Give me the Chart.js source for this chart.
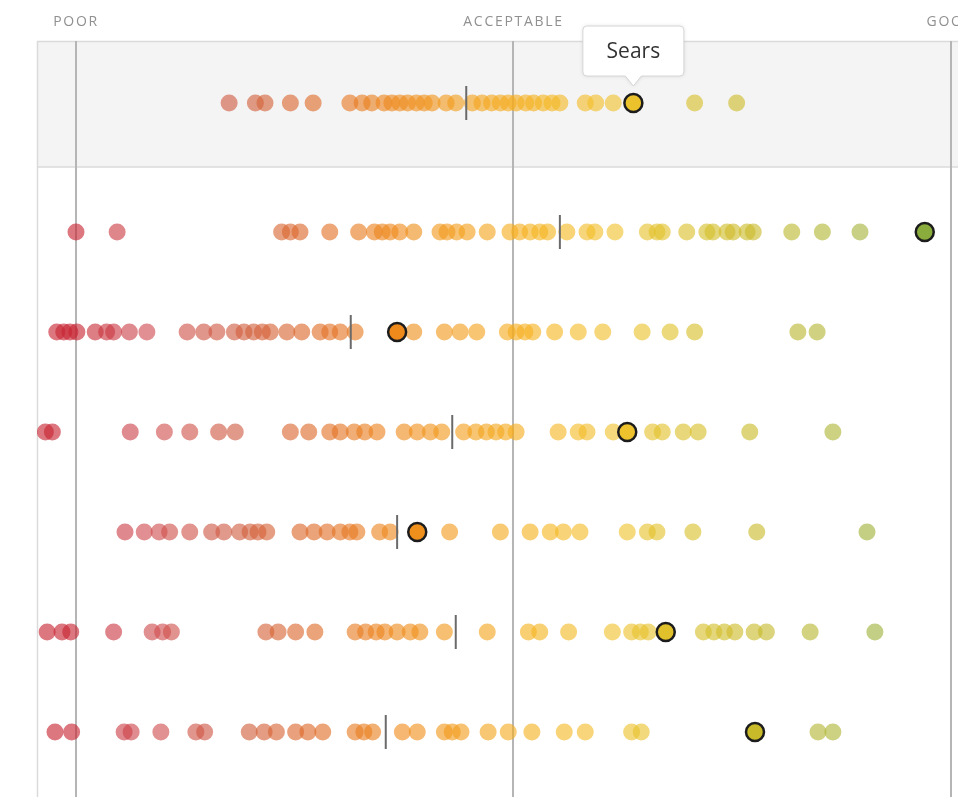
<!DOCTYPE html>
<html>
<head>
<meta charset="utf-8">
<script src="https://cdn.jsdelivr.net/npm/chart.js@4.4.1/dist/chart.umd.min.js"></script>
<style>
  html, body { margin: 0; padding: 0; background: #fff; overflow: hidden; }
  #wrap { width: 958px; height: 797px; overflow: hidden; }
  #strip_chart { display: block; }
</style>
</head>
<body>
<div id="wrap"><canvas id="strip_chart" width="958" height="797"></canvas></div>
<script>
// scores on a 0 (poor) .. 100 (good) scale, one array per row
// row 1 is the selected retailer (shaded band)
const row1 = [17.5, 20.5, 21.6, 24.5, 27.1, 31.3, 32.7, 33.8, 35.2, 36.1, 37.0, 37.9, 38.9, 39.8, 40.7,
  42.3, 43.4, 45.3, 46.4, 47.5, 48.5, 49.4, 50.3, 51.4, 52.3, 53.4, 54.4, 55.3, 58.2, 59.4, 61.4, 70.7, 75.5];
const row2 = [0.0, 4.7, 23.5, 24.5, 25.6, 29.0, 32.3, 34.1, 35.0, 35.9, 37.0, 38.6, 41.6, 42.4, 43.5, 44.7,
  47.0, 49.6, 50.7, 51.9, 53.0, 53.9, 56.1, 58.4, 59.3, 61.6, 65.3, 66.4, 67.0, 69.8, 72.1, 72.8, 74.4, 75.1,
  76.7, 77.4, 81.8, 85.3, 89.6];
const row3 = [-2.2, -1.4, -0.7, 0.1, 2.2, 3.5, 4.3, 6.1, 8.1, 12.7, 14.6, 16.1, 18.1, 19.2, 20.3, 21.3, 22.2,
  24.1, 25.8, 27.9, 29.0, 30.2, 31.9, 38.6, 42.1, 43.9, 45.8, 49.3, 50.3, 51.3, 52.2, 54.7, 57.4, 60.2, 64.7,
  67.9, 70.7, 82.5, 84.7];
const row4 = [-3.5, -2.7, 6.2, 10.1, 13.0, 16.3, 18.2, 24.5, 26.6, 29.0, 30.2, 31.8, 33.0, 34.4, 37.5, 39.0,
  40.5, 41.8, 44.3, 45.7, 46.9, 48.0, 49.1, 50.3, 55.1, 57.4, 58.4, 61.4, 65.9, 67.0, 69.4, 71.1, 77.0, 86.5];
const row5 = [5.6, 7.8, 9.5, 10.7, 13.0, 15.5, 16.9, 18.7, 19.9, 20.8, 21.8, 25.6, 27.2, 28.7, 30.2, 31.3,
  32.1, 34.7, 35.9, 42.7, 48.5, 51.9, 54.2, 55.7, 57.6, 63.0, 65.3, 66.4, 70.5, 77.8, 90.4];
const row6 = [-3.3, -1.6, -0.6, 4.3, 8.7, 9.9, 10.9, 21.7, 23.1, 25.1, 27.3, 31.9, 33.1, 34.3, 35.3, 36.7,
  38.2, 39.3, 42.1, 47.0, 51.7, 53.0, 56.3, 61.3, 63.5, 64.5, 65.4, 71.7, 72.9, 74.1, 75.3, 77.5, 78.9, 83.9, 91.3];
const row7 = [-2.4, -0.5, 5.5, 6.3, 9.7, 13.7, 14.7, 19.8, 21.5, 22.9, 25.1, 26.5, 28.2, 31.9, 32.9, 33.9,
  37.3, 39.0, 42.1, 43.0, 44.0, 47.1, 49.4, 52.1, 55.8, 58.2, 63.5, 64.6, 84.8, 86.5];

const rows = [row1, row2, row3, row4, row5, row6, row7];
const medians = [44.6, 55.3, 31.4, 43.0, 36.7, 43.4, 35.4];
const highlights = [63.7, 97.0, 36.7, 63.0, 39.0, 67.4, 77.6];
const highlightName = 'Sears';

const zoneValues = [0, 50, 100];
const zoneLabels = ['POOR', 'ACCEPTABLE', 'GOOD'];

// first row gets its own band, the rest are one unit apart
function rowY(i) { return i === 0 ? 0 : i + 0.29; }

const colorStops = [
  [0, [198, 35, 50]],
  [8, [206, 75, 80]],
  [18, [206, 92, 65]],
  [27, [222, 106, 40]],
  [36, [238, 136, 28]],
  [45, [243, 160, 28]],
  [53, [246, 180, 32]],
  [62, [240, 194, 45]],
  [70, [218, 192, 42]],
  [78, [200, 186, 42]],
  [88, [170, 180, 55]],
  [97, [138, 172, 60]]
];

function scoreColor(v, a) {
  let lo = colorStops[0], hi = colorStops[colorStops.length - 1];
  if (v <= lo[0]) return 'rgba(' + lo[1].join(',') + ',' + a + ')';
  if (v >= hi[0]) return 'rgba(' + hi[1].join(',') + ',' + a + ')';
  for (let k = 0; k < colorStops.length - 1; k++) {
    if (v >= colorStops[k][0] && v <= colorStops[k + 1][0]) { lo = colorStops[k]; hi = colorStops[k + 1]; break; }
  }
  const t = (v - lo[0]) / (hi[0] - lo[0]);
  const c = lo[1].map((x, j) => Math.round(x + (hi[1][j] - x) * t));
  return 'rgba(' + c.join(',') + ',' + a + ')';
}

const dotData = [];
rows.forEach((r, i) => r.forEach(v => dotData.push({ x: v, y: rowY(i) })));
const medianData = medians.map((v, i) => ({ x: v, y: rowY(i) }));
const highlightData = highlights.map((v, i) => ({ x: v, y: rowY(i) }));

// shaded band + frame lines behind everything
const bandPlugin = {
  id: 'band',
  beforeDraw(chart) {
    const c = chart.ctx, a = chart.chartArea, ys = chart.scales.y;
    const top = ys.getPixelForValue(-0.62), bot = ys.getPixelForValue(0.64);
    c.save();
    c.fillStyle = '#f4f4f4';
    c.fillRect(a.left, top, a.right - a.left, bot - top);
    c.strokeStyle = '#dadada';
    c.lineWidth = 1.5;
    c.beginPath();
    c.moveTo(a.left, top + 0.5); c.lineTo(a.right, top + 0.5);
    c.moveTo(a.left, bot); c.lineTo(a.right, bot);
    c.moveTo(a.left + 0.5, top); c.lineTo(a.left + 0.5, a.bottom);
    c.stroke();
    c.restore();
  }
};

// zone labels on top and the callout for the selected retailer
const labelPlugin = {
  id: 'labels',
  afterDraw(chart) {
    const c = chart.ctx, xs = chart.scales.x;
    c.save();
    c.font = '14px "Open Sans"';
    c.fillStyle = '#909090';
    c.textAlign = 'center';
    c.textBaseline = 'middle';
    c.letterSpacing = '1.7px';
    zoneValues.forEach((v, i) => c.fillText(zoneLabels[i], xs.getPixelForValue(v), 22));
    c.restore();

    const pt = chart.getDatasetMeta(0).data[0];
    const w = 101, h = 50, tipY = pt.y - 17, boxB = tipY - 10, boxT = boxB - h, boxL = pt.x - w / 2;
    c.save();
    c.shadowColor = 'rgba(0,0,0,0.12)';
    c.shadowBlur = 4;
    c.fillStyle = '#fff';
    c.strokeStyle = '#d6d6d6';
    c.lineWidth = 1;
    c.beginPath();
    c.moveTo(boxL + 4, boxT);
    c.lineTo(boxL + w - 4, boxT);
    c.arcTo(boxL + w, boxT, boxL + w, boxT + 4, 4);
    c.lineTo(boxL + w, boxB - 4);
    c.arcTo(boxL + w, boxB, boxL + w - 4, boxB, 4);
    c.lineTo(pt.x + 8, boxB);
    c.lineTo(pt.x, tipY);
    c.lineTo(pt.x - 8, boxB);
    c.lineTo(boxL + 4, boxB);
    c.arcTo(boxL, boxB, boxL, boxB - 4, 4);
    c.lineTo(boxL, boxT + 4);
    c.arcTo(boxL, boxT, boxL + 4, boxT, 4);
    c.closePath();
    c.fill();
    c.shadowColor = 'transparent';
    c.stroke();
    c.fillStyle = '#333';
    c.font = '21px "Open Sans"';
    c.textAlign = 'center';
    c.textBaseline = 'middle';
    c.fillText(highlightName, pt.x, boxT + h / 2 + 1);
    c.restore();
  }
};

const ctx = document.getElementById('strip_chart').getContext('2d');
const chart = new Chart(ctx, {
  type: 'scatter',
  data: {
    datasets: [{
      label: 'selected',
      data: highlightData,
      order: 0,
      pointRadius: 9,
      pointBorderWidth: 2.5,
      pointBorderColor: '#1c1c1c',
      pointBackgroundColor: c => scoreColor(c.raw.x, 1)
    }, {
      label: 'median',
      data: medianData,
      order: 1,
      pointStyle: 'line',
      pointRotation: 90,
      pointRadius: 17,
      pointBorderWidth: 2,
      pointBorderColor: '#6a6a6a'
    }, {
      label: 'stores',
      data: dotData,
      order: 2,
      pointRadius: 8.5,
      pointBorderWidth: 0,
      pointBackgroundColor: c => scoreColor(c.raw.x, 0.62)
    }]
  },
  options: {
    responsive: false,
    devicePixelRatio: 1,
    animation: false,
    events: [],
    layout: { autoPadding: false, padding: { left: 37, top: 41, right: 0, bottom: 0 } },
    scales: {
      x: {
        type: 'linear',
        min: -4.457,
        max: 100.8,
        afterBuildTicks: s => { s.ticks = zoneValues.map(v => ({ value: v })); },
        grid: { color: '#b5b5b5', lineWidth: 2, drawTicks: false },
        border: { display: false },
        ticks: { display: false }
      },
      y: { display: false, min: -0.62, max: 6.94, reverse: true }
    },
    plugins: { legend: { display: false }, tooltip: { enabled: false } }
  },
  plugins: [bandPlugin, labelPlugin]
});
</script>
</body>
</html>
